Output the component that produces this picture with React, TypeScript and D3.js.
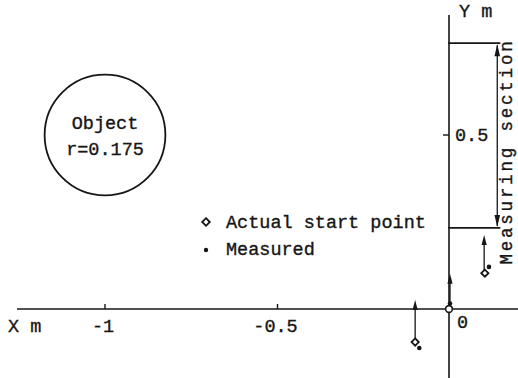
import React from "react";
import * as d3 from "d3";

const W = 518;
const H = 378;

// Axis ticks
const xTicks = [-1, -0.5];
const xTickLabels = ["-1", "-0.5"];
const yTicks = [0.5];
const yTickLabels = ["0.5"];

// Object
const objectCenter = { x: -1.0, y: 0.5 };
const objectRadius = 0.175;

// Measuring section (Y range)
const measuringSection = [0.233, 0.764];

// Actual start points (diamonds) and measured points (dots)
const actualX = [0.0, 0.101, -0.101];
const actualY = [0.0, 0.103, -0.095];
const measuredX = [0.0, 0.113, -0.089];
const measuredY = [0.016, 0.121, -0.112];
// direction arrows: start/end (data units)
const arrowX = [0.0, 0.099, -0.101];
const arrowY0 = [0.0, 0.11, -0.088];
const arrowY1 = [0.101, 0.213, 0.026];

const FONT = "'Liberation Mono', 'DejaVu Sans Mono', Courier, monospace";
const INK = "#161616";
const TXT = { fontFamily: FONT, fontSize: 18.5, fill: INK, stroke: INK, strokeWidth: 0.35 } as const;

export default function App() {
  const x = d3.scaleLinear().domain([-1, 0]).range([105, 450]);
  const y = d3.scaleLinear().domain([0, 0.5]).range([309, 135]);

  const xAxisStart = x(-1.255);
  const xAxisEnd = W;
  const yAxisTop = y(0.845);
  const yAxisBottom = H;

  const arrowHead = (tx: number, ty: number, dir: number, len = 9, half = 2.6) => {
    const by = ty - dir * len;
    return `M${tx},${ty} L${tx - half},${by} L${tx + half},${by} Z`;
  };

  const diamond = (cx: number, cy: number, r = 3.6) =>
    `M${cx},${cy - r} L${cx + r},${cy} L${cx},${cy + r} L${cx - r},${cy} Z`;

  const secX0 = x(0) - 2;
  const secX1 = x(0.146);
  const secArrowX = x(0.137);
  const secTop = y(measuringSection[1]);
  const secBot = y(measuringSection[0]);

  return (
    <div style={{ position: "fixed", left: 0, top: 0 }}>
      <svg width={W} height={H} viewBox={`0 0 ${W} ${H}`} style={{ display: "block", background: "#fff" }}>
        <rect width={W} height={H} fill="#fff" />
        {/* X axis */}
        <line x1={xAxisStart} y1={y(0)} x2={xAxisEnd} y2={y(0)} stroke={INK} strokeWidth={1.6} />
        {xTicks.map((t, i) => (
          <g key={"xt" + i}>
            <line x1={x(t)} y1={y(0)} x2={x(t)} y2={y(0) - 5} stroke={INK} strokeWidth={1.4} />
            <text x={x(t) - 2} y={332} textAnchor="middle" {...TXT}>
              {xTickLabels[i]}
            </text>
          </g>
        ))}
        <text x={8} y={332} {...TXT}>X m</text>
        <text x={457} y={328} {...TXT}>0</text>

        {/* Y axis */}
        <line x1={x(0) - 1} y1={yAxisTop} x2={x(0) - 1} y2={yAxisBottom} stroke={INK} strokeWidth={1.6} />
        {yTicks.map((t, i) => (
          <g key={"yt" + i}>
            <line x1={x(0) - 7} y1={y(t)} x2={x(0) - 1} y2={y(t)} stroke={INK} strokeWidth={1.4} />
            <text x={455} y={y(t) + 6} {...TXT}>
              {yTickLabels[i]}
            </text>
          </g>
        ))}
        <text x={459} y={17} {...TXT}>Y m</text>

        {/* Measuring section */}
        <line x1={secX0} y1={secTop} x2={secX1} y2={secTop} stroke={INK} strokeWidth={1.8} />
        <line x1={secX0} y1={secBot} x2={secX1} y2={secBot} stroke={INK} strokeWidth={1.8} />
        <line x1={secArrowX} y1={secTop + 2} x2={secArrowX} y2={secBot - 2} stroke={INK} strokeWidth={1.3} />
        <path d={arrowHead(secArrowX, secTop + 1, -1, 12, 2.8)} fill={INK} />
        <path d={arrowHead(secArrowX, secBot - 1, 1, 12, 2.8)} fill={INK} />
        <text
          transform={`translate(512,${(secTop + secBot) / 2 + 16}) rotate(-90)`}
          textAnchor="middle"
          {...TXT}
          fontSize={17.5}
          letterSpacing={2.8}
        >
          Measuring section
        </text>

        {/* Object */}
        <circle
          cx={x(objectCenter.x)}
          cy={y(objectCenter.y)}
          r={x(objectCenter.x + objectRadius) - x(objectCenter.x)}
          fill="none"
          stroke={INK}
          strokeWidth={1.8}
        />
        <text x={x(objectCenter.x)} y={y(objectCenter.y) - 6} textAnchor="middle" {...TXT}>
          Object
        </text>
        <text x={x(objectCenter.x)} y={y(objectCenter.y) + 20} textAnchor="middle" {...TXT}>
          r=0.175
        </text>

        {/* Legend */}
        <path d={diamond(206, 222, 3.8)} fill="none" stroke={INK} strokeWidth={1.8} />
        <text x={226} y={228} {...TXT}>Actual start point</text>
        <circle cx={206} cy={250} r={2.2} fill={INK} />
        <text x={226} y={255} {...TXT}>Measured</text>

        {/* Direction arrows */}
        {arrowX.map((ax, i) => (
          <g key={"ar" + i}>
            <line x1={x(ax)} y1={y(arrowY0[i])} x2={x(ax)} y2={y(arrowY1[i]) + 4} stroke={INK} strokeWidth={1.3} />
            <path d={arrowHead(x(ax), y(arrowY1[i]), -1, 10, 2.6)} fill={INK} />
          </g>
        ))}

        {/* Measured points */}
        {measuredX.map((mx, i) => (
          <circle key={"m" + i} cx={x(mx)} cy={y(measuredY[i])} r={2.3} fill={INK} />
        ))}
        {/* Actual start points */}
        {actualX.map((axv, i) =>
          i === 0 ? (
            <circle key={"a" + i} cx={x(axv) - 1} cy={y(actualY[i])} r={3.4} fill="#fff" stroke={INK} strokeWidth={1.6} />
          ) : (
            <path key={"a" + i} d={diamond(x(axv), y(actualY[i]), 3.6)} fill="#fff" stroke={INK} strokeWidth={1.8} />
          )
        )}
      </svg>
    </div>
  );
}
